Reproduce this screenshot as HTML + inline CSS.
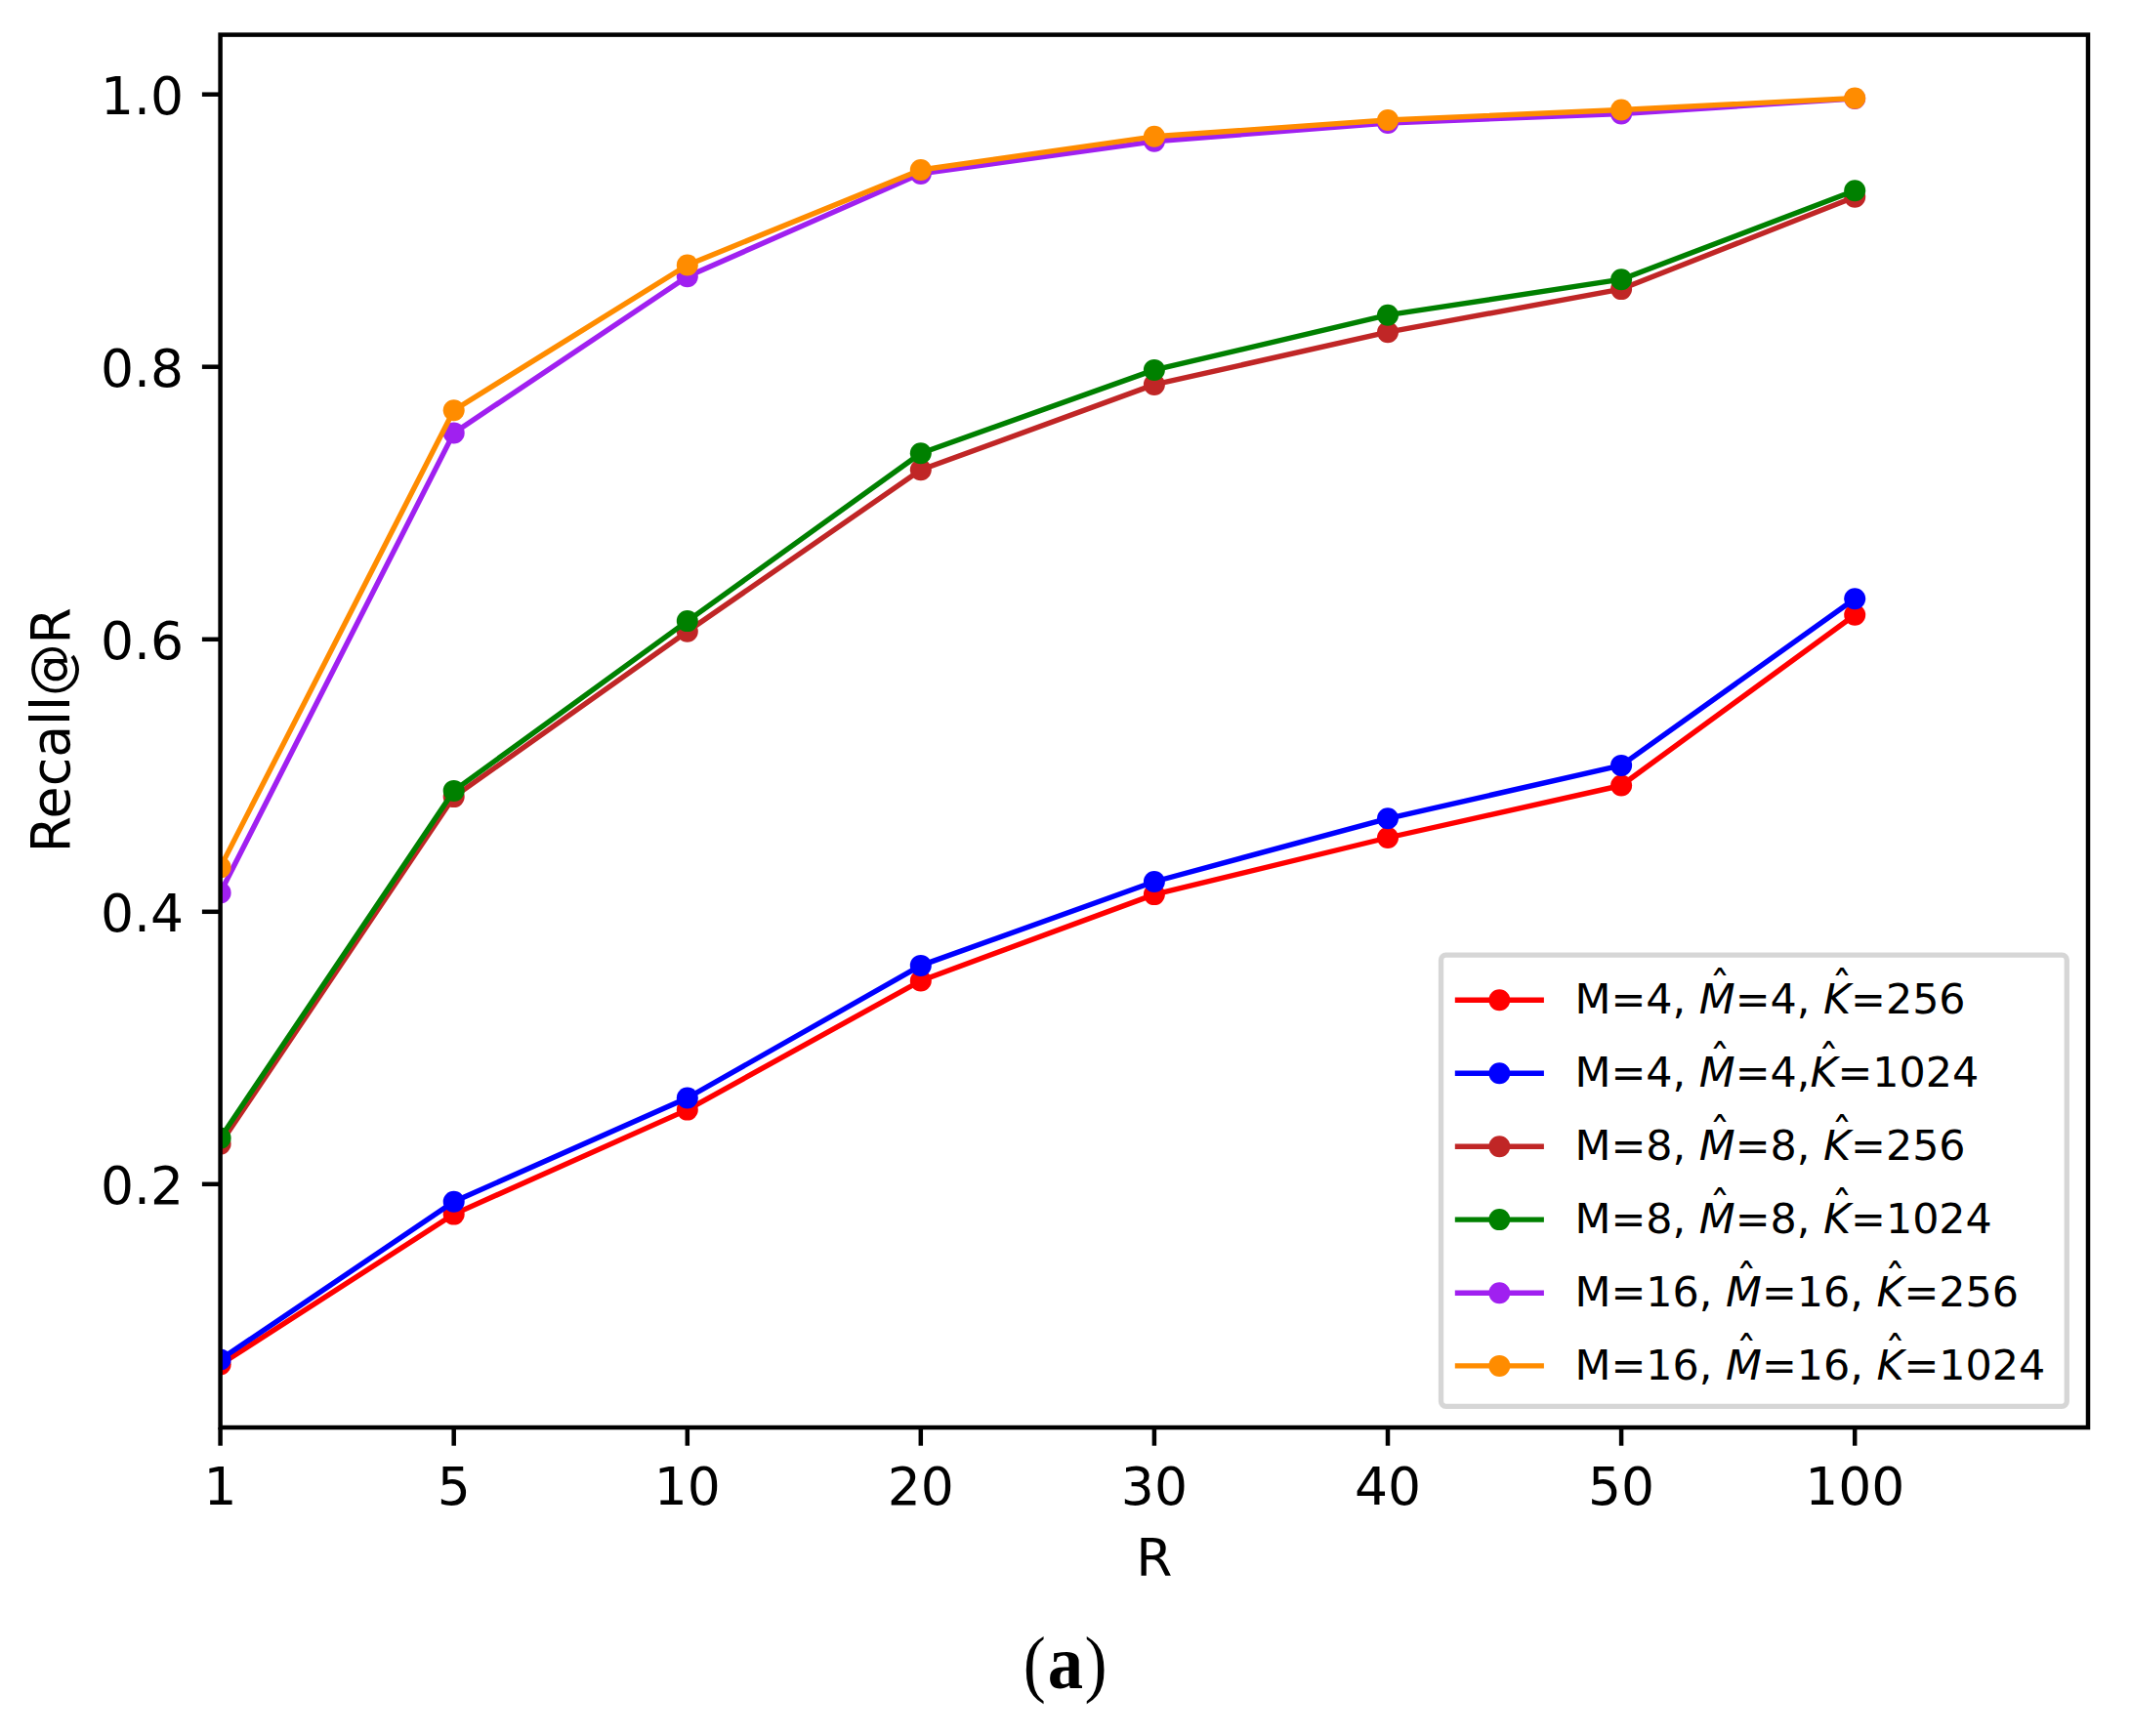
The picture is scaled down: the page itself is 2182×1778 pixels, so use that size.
<!DOCTYPE html>
<html lang="en"><head><meta charset="utf-8"><title>Recall@R</title>
<style>
html,body{margin:0;padding:0;background:#fff;}
body{width:2182px;height:1778px;overflow:hidden;}
svg{display:block;}
text{font-family:"DejaVu Sans","Liberation Sans",sans-serif;fill:#000;}
.t{font-size:53.5px;}
.l{font-size:42.8px;}
.i{font-style:italic;}
.l,.h{font-kerning:none;}
.h{font-size:42.8px;}
.cap{font-family:"Liberation Serif","DejaVu Serif",serif;font-size:76px;}
</style></head><body>
<svg width="2182" height="1778" viewBox="0 0 2182 1778">
<rect width="2182" height="1778" fill="#fff"/>
<defs><clipPath id="ax"><rect x="225.60" y="35.60" width="1912.40" height="1426.40"/></clipPath></defs>
<g clip-path="url(#ax)">
<polyline points="225.6,1397.5 464.7,1243.6 703.8,1136.6 942.8,1004.5 1181.9,916.1 1421.0,858.0 1660.1,804.5 1899.2,629.8" fill="none" stroke="#ff0000" stroke-width="5.4" stroke-linejoin="round" stroke-linecap="square"/>
<circle cx="225.6" cy="1397.5" r="11.0" fill="#ff0000"/>
<circle cx="464.7" cy="1243.6" r="11.0" fill="#ff0000"/>
<circle cx="703.8" cy="1136.6" r="11.0" fill="#ff0000"/>
<circle cx="942.8" cy="1004.5" r="11.0" fill="#ff0000"/>
<circle cx="1181.9" cy="916.1" r="11.0" fill="#ff0000"/>
<circle cx="1421.0" cy="858.0" r="11.0" fill="#ff0000"/>
<circle cx="1660.1" cy="804.5" r="11.0" fill="#ff0000"/>
<circle cx="1899.2" cy="629.8" r="11.0" fill="#ff0000"/>
<polyline points="225.6,1392.4 464.7,1230.8 703.8,1124.5 942.8,988.9 1181.9,903.0 1421.0,838.3 1660.1,783.9 1899.2,613.3" fill="none" stroke="#0000ff" stroke-width="5.4" stroke-linejoin="round" stroke-linecap="square"/>
<circle cx="225.6" cy="1392.4" r="11.0" fill="#0000ff"/>
<circle cx="464.7" cy="1230.8" r="11.0" fill="#0000ff"/>
<circle cx="703.8" cy="1124.5" r="11.0" fill="#0000ff"/>
<circle cx="942.8" cy="988.9" r="11.0" fill="#0000ff"/>
<circle cx="1181.9" cy="903.0" r="11.0" fill="#0000ff"/>
<circle cx="1421.0" cy="838.3" r="11.0" fill="#0000ff"/>
<circle cx="1660.1" cy="783.9" r="11.0" fill="#0000ff"/>
<circle cx="1899.2" cy="613.3" r="11.0" fill="#0000ff"/>
<polyline points="225.6,1171.6 464.7,816.1 703.8,646.8 942.8,481.3 1181.9,393.9 1421.0,340.2 1660.1,296.1 1899.2,201.7" fill="none" stroke="#c02626" stroke-width="5.4" stroke-linejoin="round" stroke-linecap="square"/>
<circle cx="225.6" cy="1171.6" r="11.0" fill="#c02626"/>
<circle cx="464.7" cy="816.1" r="11.0" fill="#c02626"/>
<circle cx="703.8" cy="646.8" r="11.0" fill="#c02626"/>
<circle cx="942.8" cy="481.3" r="11.0" fill="#c02626"/>
<circle cx="1181.9" cy="393.9" r="11.0" fill="#c02626"/>
<circle cx="1421.0" cy="340.2" r="11.0" fill="#c02626"/>
<circle cx="1660.1" cy="296.1" r="11.0" fill="#c02626"/>
<circle cx="1899.2" cy="201.7" r="11.0" fill="#c02626"/>
<polyline points="225.6,1165.6 464.7,809.9 703.8,636.1 942.8,464.2 1181.9,378.9 1421.0,322.7 1660.1,286.2 1899.2,195.3" fill="none" stroke="#008000" stroke-width="5.4" stroke-linejoin="round" stroke-linecap="square"/>
<circle cx="225.6" cy="1165.6" r="11.0" fill="#008000"/>
<circle cx="464.7" cy="809.9" r="11.0" fill="#008000"/>
<circle cx="703.8" cy="636.1" r="11.0" fill="#008000"/>
<circle cx="942.8" cy="464.2" r="11.0" fill="#008000"/>
<circle cx="1181.9" cy="378.9" r="11.0" fill="#008000"/>
<circle cx="1421.0" cy="322.7" r="11.0" fill="#008000"/>
<circle cx="1660.1" cy="286.2" r="11.0" fill="#008000"/>
<circle cx="1899.2" cy="195.3" r="11.0" fill="#008000"/>
<polyline points="225.6,914.4 464.7,443.4 703.8,283.2 942.8,177.9 1181.9,144.8 1421.0,126.0 1660.1,116.5 1899.2,101.0" fill="none" stroke="#a020f0" stroke-width="5.4" stroke-linejoin="round" stroke-linecap="square"/>
<circle cx="225.6" cy="914.4" r="11.0" fill="#a020f0"/>
<circle cx="464.7" cy="443.4" r="11.0" fill="#a020f0"/>
<circle cx="703.8" cy="283.2" r="11.0" fill="#a020f0"/>
<circle cx="942.8" cy="177.9" r="11.0" fill="#a020f0"/>
<circle cx="1181.9" cy="144.8" r="11.0" fill="#a020f0"/>
<circle cx="1421.0" cy="126.0" r="11.0" fill="#a020f0"/>
<circle cx="1660.1" cy="116.5" r="11.0" fill="#a020f0"/>
<circle cx="1899.2" cy="101.0" r="11.0" fill="#a020f0"/>
<polyline points="225.6,888.4 464.7,420.2 703.8,271.5 942.8,174.0 1181.9,139.8 1421.0,123.0 1660.1,112.5 1899.2,100.6" fill="none" stroke="#ff8c00" stroke-width="5.4" stroke-linejoin="round" stroke-linecap="square"/>
<circle cx="225.6" cy="888.4" r="11.0" fill="#ff8c00"/>
<circle cx="464.7" cy="420.2" r="11.0" fill="#ff8c00"/>
<circle cx="703.8" cy="271.5" r="11.0" fill="#ff8c00"/>
<circle cx="942.8" cy="174.0" r="11.0" fill="#ff8c00"/>
<circle cx="1181.9" cy="139.8" r="11.0" fill="#ff8c00"/>
<circle cx="1421.0" cy="123.0" r="11.0" fill="#ff8c00"/>
<circle cx="1660.1" cy="112.5" r="11.0" fill="#ff8c00"/>
<circle cx="1899.2" cy="100.6" r="11.0" fill="#ff8c00"/>
</g>
<g stroke="#000" stroke-width="4.5">
<line x1="225.6" y1="1462.0" x2="225.6" y2="1480.7"/>
<line x1="464.7" y1="1462.0" x2="464.7" y2="1480.7"/>
<line x1="703.8" y1="1462.0" x2="703.8" y2="1480.7"/>
<line x1="942.8" y1="1462.0" x2="942.8" y2="1480.7"/>
<line x1="1181.9" y1="1462.0" x2="1181.9" y2="1480.7"/>
<line x1="1421.0" y1="1462.0" x2="1421.0" y2="1480.7"/>
<line x1="1660.1" y1="1462.0" x2="1660.1" y2="1480.7"/>
<line x1="1899.2" y1="1462.0" x2="1899.2" y2="1480.7"/>
<line x1="206.9" y1="1212.8" x2="225.6" y2="1212.8"/>
<line x1="206.9" y1="933.8" x2="225.6" y2="933.8"/>
<line x1="206.9" y1="654.8" x2="225.6" y2="654.8"/>
<line x1="206.9" y1="375.7" x2="225.6" y2="375.7"/>
<line x1="206.9" y1="96.7" x2="225.6" y2="96.7"/>
</g>
<rect x="225.60" y="35.60" width="1912.40" height="1426.40" fill="none" stroke="#000" stroke-width="4.5" stroke-linejoin="miter"/>
<text class="t" x="225.6" y="1540.5" text-anchor="middle">1</text>
<text class="t" x="464.7" y="1540.5" text-anchor="middle">5</text>
<text class="t" x="703.8" y="1540.5" text-anchor="middle">10</text>
<text class="t" x="942.8" y="1540.5" text-anchor="middle">20</text>
<text class="t" x="1181.9" y="1540.5" text-anchor="middle">30</text>
<text class="t" x="1421.0" y="1540.5" text-anchor="middle">40</text>
<text class="t" x="1660.1" y="1540.5" text-anchor="middle">50</text>
<text class="t" x="1899.2" y="1540.5" text-anchor="middle">100</text>
<text class="t" x="188.0" y="1233.2" text-anchor="end">0.2</text>
<text class="t" x="188.0" y="954.2" text-anchor="end">0.4</text>
<text class="t" x="188.0" y="675.2" text-anchor="end">0.6</text>
<text class="t" x="188.0" y="396.1" text-anchor="end">0.8</text>
<text class="t" x="188.0" y="117.1" text-anchor="end">1.0</text>
<text class="t" x="1181.8" y="1614.2" text-anchor="middle">R</text>
<text class="t" transform="translate(70.6,747.7) rotate(-90) scale(1.004,1.02)" text-anchor="middle">Recall@R</text>
<rect x="1475.5" y="978.2" width="640.8" height="462.1" rx="5" ry="5" fill="#fff" fill-opacity="0.8" stroke="#cccccc" stroke-opacity="0.8" stroke-width="5.3"/>
<line x1="1492.5" y1="1024.3" x2="1578.2" y2="1024.3" stroke="#ff0000" stroke-width="5.4" stroke-linecap="square"/>
<circle cx="1535.3" cy="1024.3" r="11.0" fill="#ff0000"/>
<text class="l" x="1612.5" y="1038.3">M=4, <tspan class="i">M</tspan>=4, <tspan class="i">K</tspan>=256</text>
<text class="h" x="1761.0" y="1024.7" text-anchor="middle">ˆ</text>
<text class="h" x="1886.0" y="1024.7" text-anchor="middle">ˆ</text>
<line x1="1492.5" y1="1099.3" x2="1578.2" y2="1099.3" stroke="#0000ff" stroke-width="5.4" stroke-linecap="square"/>
<circle cx="1535.3" cy="1099.3" r="11.0" fill="#0000ff"/>
<text class="l" x="1612.5" y="1113.3">M=4, <tspan class="i">M</tspan>=4,<tspan class="i">K</tspan>=1024</text>
<text class="h" x="1761.0" y="1099.7" text-anchor="middle">ˆ</text>
<text class="h" x="1872.4" y="1099.7" text-anchor="middle">ˆ</text>
<line x1="1492.5" y1="1174.3" x2="1578.2" y2="1174.3" stroke="#c02626" stroke-width="5.4" stroke-linecap="square"/>
<circle cx="1535.3" cy="1174.3" r="11.0" fill="#c02626"/>
<text class="l" x="1612.5" y="1188.3">M=8, <tspan class="i">M</tspan>=8, <tspan class="i">K</tspan>=256</text>
<text class="h" x="1761.0" y="1174.7" text-anchor="middle">ˆ</text>
<text class="h" x="1886.0" y="1174.7" text-anchor="middle">ˆ</text>
<line x1="1492.5" y1="1249.1" x2="1578.2" y2="1249.1" stroke="#008000" stroke-width="5.4" stroke-linecap="square"/>
<circle cx="1535.3" cy="1249.1" r="11.0" fill="#008000"/>
<text class="l" x="1612.5" y="1263.1">M=8, <tspan class="i">M</tspan>=8, <tspan class="i">K</tspan>=1024</text>
<text class="h" x="1761.0" y="1249.5" text-anchor="middle">ˆ</text>
<text class="h" x="1886.0" y="1249.5" text-anchor="middle">ˆ</text>
<line x1="1492.5" y1="1324.2" x2="1578.2" y2="1324.2" stroke="#a020f0" stroke-width="5.4" stroke-linecap="square"/>
<circle cx="1535.3" cy="1324.2" r="11.0" fill="#a020f0"/>
<text class="l" x="1612.5" y="1338.2">M=16, <tspan class="i">M</tspan>=16, <tspan class="i">K</tspan>=256</text>
<text class="h" x="1788.2" y="1324.6" text-anchor="middle">ˆ</text>
<text class="h" x="1940.5" y="1324.6" text-anchor="middle">ˆ</text>
<line x1="1492.5" y1="1398.9" x2="1578.2" y2="1398.9" stroke="#ff8c00" stroke-width="5.4" stroke-linecap="square"/>
<circle cx="1535.3" cy="1398.9" r="11.0" fill="#ff8c00"/>
<text class="l" x="1612.5" y="1412.9">M=16, <tspan class="i">M</tspan>=16, <tspan class="i">K</tspan>=1024</text>
<text class="h" x="1788.2" y="1399.3" text-anchor="middle">ˆ</text>
<text class="h" x="1940.5" y="1399.3" text-anchor="middle">ˆ</text>
<text class="cap" transform="translate(1047.85,1728.7) scale(0.91,1)">(</text>
<text class="cap" transform="translate(1090.8,1728.6) scale(0.957,1.039)" text-anchor="middle" font-weight="bold">a</text>
<text class="cap" transform="translate(1110.4,1728.7) scale(0.91,1)">)</text>
</svg></body></html>
